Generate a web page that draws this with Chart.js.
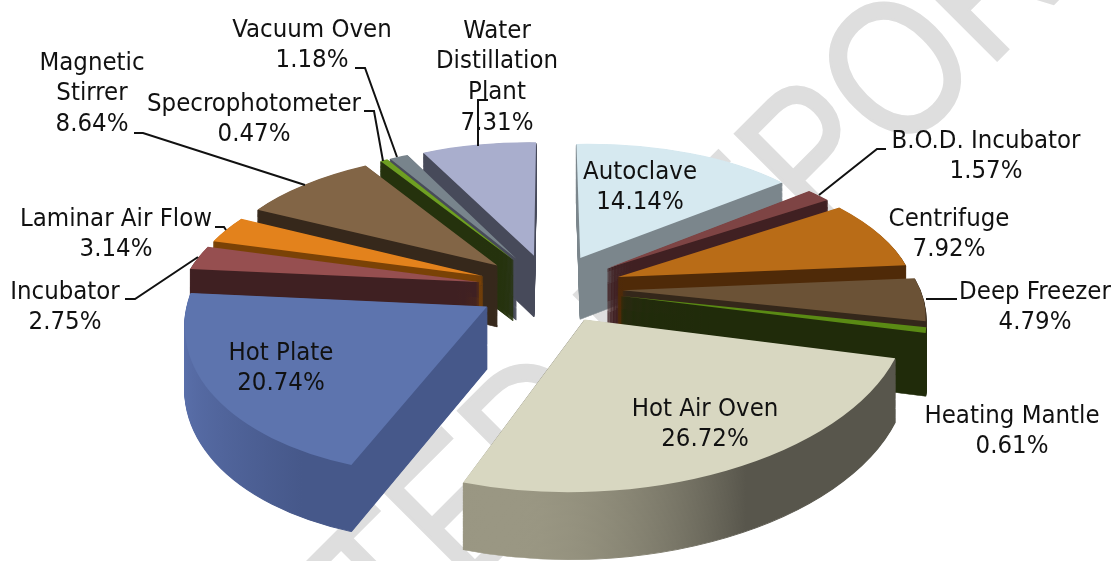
<!DOCTYPE html>
<html>
<head>
<meta charset="utf-8">
<title>Equipment share</title>
<script src="https://cdn.jsdelivr.net/npm/chart.js@4"></script>
<style>
  html, body { margin: 0; background: #fff; }
  #wrap { width: 1113px; height: 561px; }
</style>
</head>
<body>
<div id="wrap"><canvas id="pie" width="1113" height="561"></canvas></div>
<script>
const categories = ['Autoclave', 'B.O.D. Incubator', 'Centrifuge', 'Deep Freezer', 'Heating Mantle', 'Hot Air Oven', 'Hot Plate', 'Incubator', 'Laminar Air Flow', 'Magnetic Stirrer', 'Specrophotometer', 'Vacuum Oven', 'Water Distillation Plant'];
const shares = [14.14, 1.57, 7.92, 4.79, 0.61, 26.72, 20.74, 2.75, 3.14, 8.64, 0.47, 1.18, 7.31];
const topColors = ['#d6e9f0', '#7e4444', '#b96c17', '#6b5236', '#5a8a14', '#d8d7c1', '#5d74ae', '#964f50', '#e3821c', '#826546', '#6e9f22', '#78848c', '#a9aecd'];
const sideNear = ['#7b868c', '#402022', '#4f2a08', '#34271a', '#202b0a', '#58564c', '#46588a', '#3f2022', '#7a4206', '#36281b', '#25320d', '#484b5a', '#474a5a'];
const sideFar = ['#7b868c', '#402022', '#4f2a08', '#34271a', '#202b0a', '#9a9783', '#5c72ae', '#3f2022', '#7a4206', '#36281b', '#25320d', '#484b5a', '#474a5a'];
const sideHold = [0.5, 0.5, 0.5, 0.5, 0.5, 0.7, 0.2, 0.5, 0.5, 0.5, 0.5, 0.5, 0.5];

// label text lines, centre x, first line y
const labelLines = [['Autoclave'], ['B.O.D. Incubator'], ['Centrifuge'], ['Deep Freezer'], ['Heating Mantle'], ['Hot Air Oven'], ['Hot Plate'], ['Incubator'], ['Laminar Air Flow'], ['Magnetic', 'Stirrer'], ['Specrophotometer'], ['Vacuum Oven'], ['Water', 'Distillation', 'Plant']];
const labelX = [640, 986, 949, 1035, 1012, 705, 281, 65, 116, 92, 254, 312, 497];
const labelY = [171, 140, 218, 291, 415, 408, 352, 291, 218, 62, 103, 29, 30];
const leaders = [
  [[355, 68], [365, 68], [397, 157]],
  [[364, 111], [374, 111], [383, 161]],
  [[134, 133], [143, 133], [305, 185]],
  [[215, 227], [224, 227], [226, 230]],
  [[125, 299], [135, 299], [198, 257]],
  [[488, 100], [478, 100], [478, 146]],
  [[886, 149], [877, 149], [819, 195]],
  [[957, 299], [926, 299]]
];

// fake 3D view of the exploded pie
const view = { cx: 550, cy: 288, radius: 297, tilt: 0.47, persp: 0.15, explode: 0.245, depth: 62 };

const project = (u, v, z) => {
  const f = 1 / (1 - view.persp * v);
  return [view.cx + view.radius * u * f, view.cy + view.radius * view.tilt * v * f + z * (1 + 0.4 * (f - 1))];
};

// affine that sends the triangle a,b,c onto p,q,r
const fitTransform = (a, b, c, p, q, r) => {
  const m = b[0] - a[0], n = c[0] - a[0], o = b[1] - a[1], w = c[1] - a[1];
  const det = m * w - n * o;
  const ax = ((q[0] - p[0]) * w - (r[0] - p[0]) * o) / det;
  const cx = ((r[0] - p[0]) * m - (q[0] - p[0]) * n) / det;
  const ay = ((q[1] - p[1]) * w - (r[1] - p[1]) * o) / det;
  const cy = ((r[1] - p[1]) * m - (q[1] - p[1]) * n) / det;
  return [ax, ay, cx, cy, p[0] - ax * a[0] - cx * a[1], p[1] - ay * a[0] - cy * a[1]];
};

const drawSlice = (ctx, arc, index) => {
  const mid = (arc.startAngle + arc.endAngle) / 2;
  const ex = Math.cos(mid) * view.explode, ey = Math.sin(mid) * view.explode;
  const r = arc.outerRadius;
  const dirs = [[0, 0], [Math.cos(arc.startAngle), Math.sin(arc.startAngle)], [Math.cos(arc.endAngle), Math.sin(arc.endAngle)]];
  const src = dirs.map(d => [arc.x + d[0] * r, arc.y + d[1] * r]);
  const saved = arc.options;

  const paint = (z, fill, edge) => {
    const dst = dirs.map(d => project(ex + d[0], ey + d[1], z));
    ctx.save();
    ctx.transform(...fitTransform(src[0], src[1], src[2], dst[0], dst[1], dst[2]));
    arc.options = Object.assign({}, saved, { backgroundColor: fill, borderColor: fill, borderWidth: edge });
    arc.draw(ctx);
    ctx.restore();
  };

  // gradient runs square to the first straight edge, so that edge's face stays one colour
  const nx = -dirs[1][1], ny = dirs[1][0];
  const reach = (src[2][0] - src[0][0]) * nx + (src[2][1] - src[0][1]) * ny;
  const rim = ctx.createLinearGradient(src[0][0], src[0][1], src[0][0] + nx * reach, src[0][1] + ny * reach);
  rim.addColorStop(0, sideNear[index]);
  rim.addColorStop(sideHold[index], sideNear[index]);
  rim.addColorStop(1, sideFar[index]);
  // side layers get a thin edge so narrow wedges don't leave gaps at the tip
  for (let z = view.depth; z > 0; z--) paint(z, rim, 1.2);
  paint(0, topColors[index], 0);
  arc.options = saved;
};

const pie3d = {
  id: 'pie3d',
  beforeDraw(chart) {
    // watermark behind the chart
    const ctx = chart.ctx;
    ctx.save();
    ctx.translate(1140, -83);
    ctx.rotate(-45 * Math.PI / 180);
    ctx.scale(0.85, 1);
    ctx.font = '193px "Liberation Sans"';
    ctx.fillStyle = '#dedede';
    ctx.strokeStyle = '#dedede';
    ctx.lineWidth = 3;
    ctx.textAlign = 'right';
    ctx.fillText('UNEDITED REPORT', 0, 0);
    ctx.strokeText('UNEDITED REPORT', 0, 0);
    ctx.restore();
  },
  beforeDatasetsDraw(chart) {
    const ctx = chart.ctx;
    const arcs = chart.getDatasetMeta(0).data;
    const order = arcs.map((a, i) => i).sort((i, j) =>
      Math.sin((arcs[i].startAngle + arcs[i].endAngle) / 2) - Math.sin((arcs[j].startAngle + arcs[j].endAngle) / 2));
    order.forEach(i => drawSlice(ctx, arcs[i], i));
    return false;
  },
  afterDraw(chart) {
    const ctx = chart.ctx;
    ctx.save();
    ctx.strokeStyle = '#111';
    ctx.lineWidth = 2;
    leaders.forEach(line => {
      ctx.beginPath();
      line.forEach((p, i) => i ? ctx.lineTo(p[0], p[1]) : ctx.moveTo(p[0], p[1]));
      ctx.stroke();
    });
    ctx.font = '25.5px "DejaVu Sans Condensed"';
    ctx.fillStyle = '#111';
    ctx.textAlign = 'center';
    ctx.textBaseline = 'middle';
    categories.forEach((c, i) => {
      const lines = labelLines[i].concat(shares[i].toFixed(2) + '%');
      lines.forEach((t, n) => ctx.fillText(t, labelX[i], labelY[i] + 1 + n * 30.7));
    });
    ctx.restore();
  }
};

new Chart(document.getElementById('pie').getContext('2d'), {
  type: 'pie',
  data: {
    labels: categories,
    datasets: [{ data: shares, backgroundColor: topColors, borderWidth: 0 }]
  },
  options: {
    responsive: false,
    animation: false,
    layout: { padding: 0 },
    plugins: { legend: { display: false }, tooltip: { enabled: false } }
  },
  plugins: [pie3d]
});
</script>
</body>
</html>
